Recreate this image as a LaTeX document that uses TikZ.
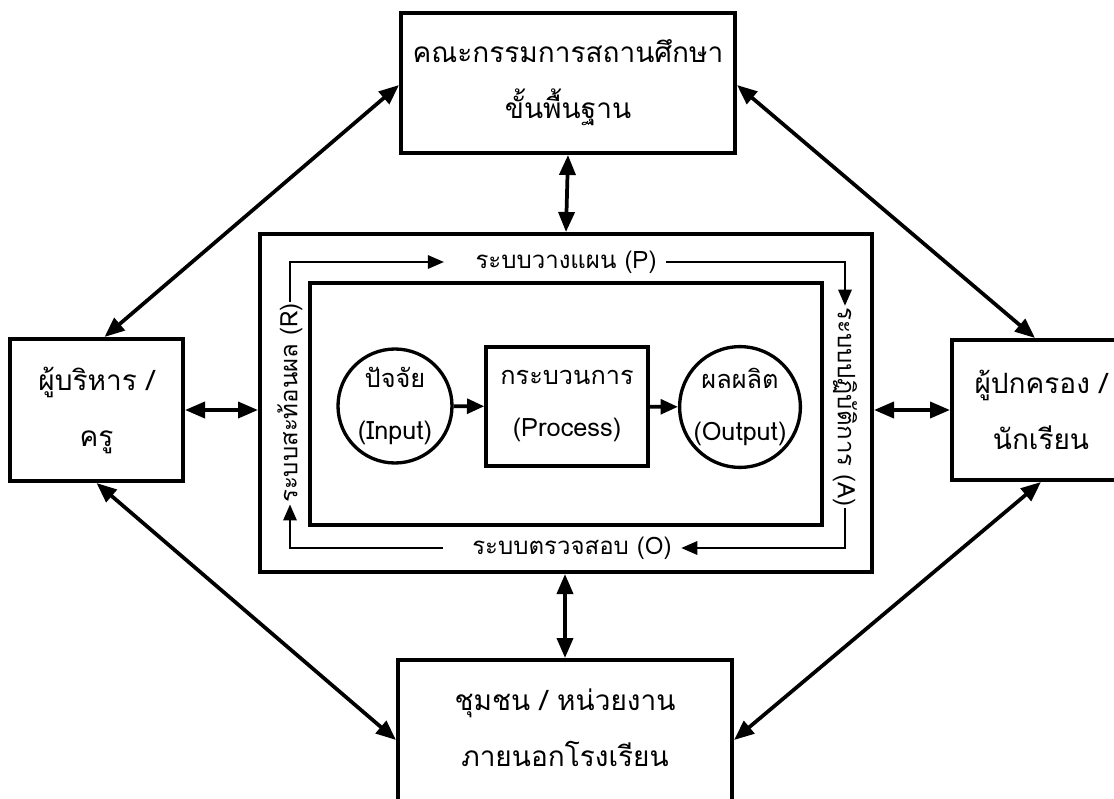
\documentclass[tikz,border=0pt]{standalone}
\usepackage{fontspec}
\setmainfont[Script=Thai]{Loma}
\usepackage{tikz}
\usetikzlibrary{calc,arrows.meta}
\usetikzlibrary{positioning}
\tikzstyle{diagram}=[
  x=0.75pt,y=-0.75pt,font=\fontsize{21}{42}\selectfont
]
\tikzstyle{unitbox}=[
  draw,rectangle,line width=3pt,fill=white,align=center,inner sep=0pt
]
\tikzstyle{unitcircle}=[
  draw,circle,line width=2.5pt,fill=white,align=center,inner sep=0pt,
  font=\fontsize{19}{39}\selectfont
]
\tikzstyle{link}=[
  line width=2.8pt,{Triangle[length=15pt,width=12pt]}-{Triangle[length=15pt,width=12pt]}
]
\tikzstyle{flow}=[
  line width=2.8pt,-{Triangle[length=13pt,width=11pt]}
]
\tikzstyle{pdcaedge}=[
  line width=1.5pt,-{Triangle[length=12pt,width=10pt]}
]
\tikzstyle{pdcalabel}=[
  font=\fontsize{18}{20}\selectfont,inner sep=1pt
]

\begin{document}
\begin{tikzpicture}[diagram]
    \clip (0,0) rectangle (1114,799);
    % outer partners
    \node (board) at (568,83) [unitbox,minimum width=250.5pt,minimum height=105pt]
      {คณะกรรมการสถานศึกษา\\ขั้นพื้นฐาน};
    \node (admin) at (96.5,410) [unitbox,minimum width=129.75pt,minimum height=106.5pt]
      {ผู้บริหาร /\\ครู};
    \node (parent) at (1041,410) [unitbox,minimum width=133.5pt,minimum height=105pt]
      {ผู้ปกครอง /\\นักเรียน};
    \node (community) at (565,733) [unitbox,minimum width=250.5pt,minimum height=109.5pt] {};
    \node (communitytext) at (565,728) [align=center] {ชุมชน / หน่วยงาน\\ภายนอกโรงเรียน};
    % school system
    \node (outer) at (566,403) [unitbox,minimum width=459pt,minimum height=253.5pt] {};
    \node (inner) at (566,404) [unitbox,minimum width=384pt,minimum height=181.5pt] {};
    \node (input) at (395,406) [unitcircle,minimum size=85.5pt] {ปัจจัย\\(Input)};
    \node (process) at (567,406.5) [unitbox,line width=2.5pt,minimum width=121.5pt,minimum height=89.25pt,
      font=\fontsize{19}{39}\selectfont] {กระบวนการ\\(Process)};
    \node (output) at (740,407) [unitcircle,minimum size=88.5pt] {ผลผลิต\\(Output)};
    \draw [flow] (input) -- (process);
    \draw [flow] (process) -- (output);
    % PAOR cycle
    \node (planlabel) at (566,262) [pdcalabel] {ระบบวางแผน (P)};
    \node (actionlabel) at (845,407) [pdcalabel,rotate=-90] {ระบบปฏิบัติการ (A)};
    \node (checklabel) at (572,548) [pdcalabel] {ระบบตรวจสอบ (O)};
    \node (reflectlabel) at (290,403) [pdcalabel,rotate=90] {ระบบสะท้อนผล (R)};
    \draw [pdcaedge] (reflectlabel.east) |- ($(planlabel.west)+(-30,0)$);
    \draw [pdcaedge] ($(planlabel.east)+(8,0)$) -| (actionlabel.west);
    \draw [pdcaedge] (actionlabel.east) |- ($(checklabel.east)+(8,0)$);
    \draw [pdcaedge] ($(checklabel.west)+(-28,0)$) -| (reflectlabel.west);
    % links
    \draw [link] (board.south) -- (outer.north);
    \draw [link] (community.north) -- (community.north |- outer.south);
    \draw [link] (admin.east) -- (admin.east -| outer.west);
    \draw [link] (parent.west) -- (parent.west -| outer.east);
    \draw [link] ($(admin.north)+(8,0)$) -- ($(board.west)+(0,2)$);
    \draw [link] ($(board.east)+(0,2)$) -- ($(parent.north)+(-6,0)$);
    \draw [link] (admin.south) -- ($(community.west)+(0,7)$);
    \draw [link] (parent.south) -- ($(community.east)+(0,7)$);
\end{tikzpicture}
\end{document}
